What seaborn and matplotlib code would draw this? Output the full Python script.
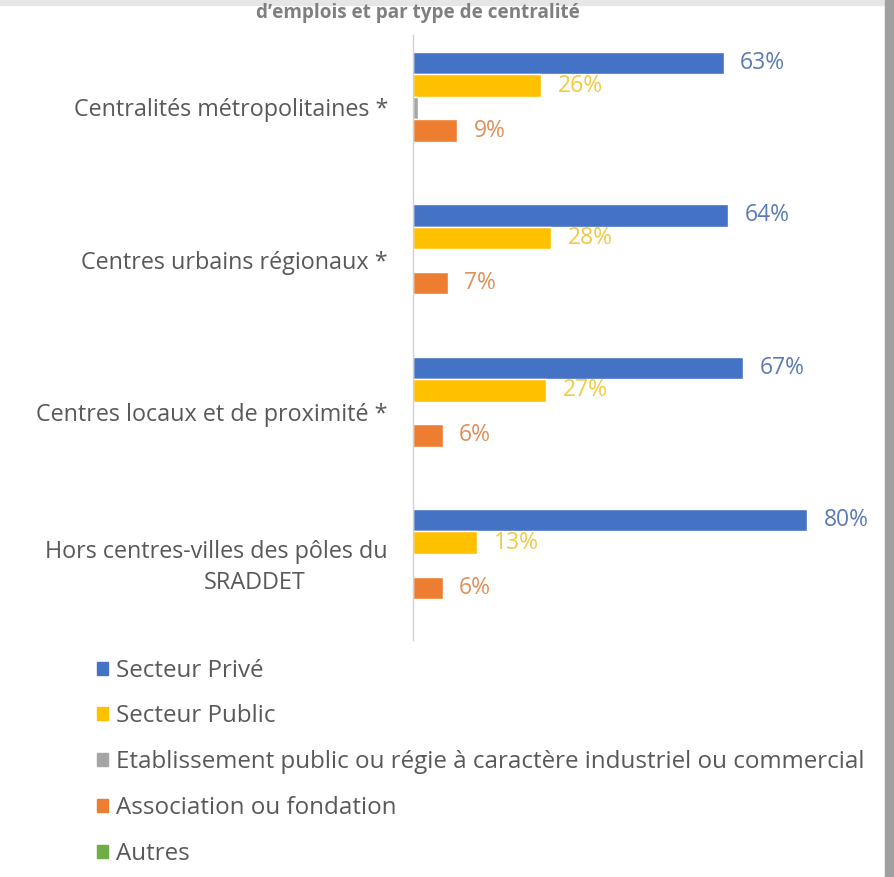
import pandas as pd
import matplotlib.pyplot as plt
import matplotlib.patches as mpatches
import matplotlib.transforms as mtransforms
import seaborn as sns

# Part des emplois par type d'employeur et par type de centralité
categories = [
    "Centralités métropolitaines *",
    "Centres urbains régionaux *",
    "Centres locaux et de proximité *",
    "Hors centres-villes des pôles du\nSRADDET",
]
series = [
    "Secteur Privé",
    "Secteur Public",
    "Etablissement public ou régie à caractère industriel ou commercial",
    "Association ou fondation",
    "Autres",
]
prive = [63, 64, 67, 80]
public = [26, 28, 27, 13]
epic = [1.0, 0.2, 0.1, 0.2]
association = [9, 7, 6, 6]
autres = [0.3, 0.3, 0.1, 0.1]
labelled = ["Secteur Privé", "Secteur Public", "Association ou fondation"]

colors = ["#4472C4", "#FFC000", "#A5A5A5", "#ED7D31", "#70AD47"]
label_colors = ["#5B7BB8", "#F2C940", "#A5A5A5", "#E0905A", "#70AD47"]

values = [prive, public, epic, association, autres]
rows = []
for s, vals in zip(series, values):
    for c, v in zip(categories, vals):
        rows.append({"Catégorie": c, "Type": s, "Part": v})
df = pd.DataFrame(rows)

sns.set_style("white")
plt.rcParams["font.family"] = ["Open Sans", "DejaVu Sans"]
text_grey = "#595959"

fig = plt.figure(figsize=(8.94, 8.77), dpi=100)
ax = fig.add_axes([413 / 894, 1 - 640 / 877, (832 - 413) / 894, (640 - 35) / 877])

sns.barplot(data=df, y="Catégorie", x="Part", hue="Type", order=categories,
            hue_order=series, palette=colors, orient="h", width=0.74,
            saturation=1, ax=ax, legend=False)

for cont, s, lc in zip(ax.containers, series, label_colors):
    if s in labelled:
        ax.bar_label(cont, labels=[f"{v:.0f}%" for v in cont.datavalues],
                     padding=12, color=lc, fontsize=16.5)

ax.set_xlim(0, 85)
ax.set_ylim(3.49, -0.48)
ax.set_xlabel("")
ax.set_ylabel("")
ax.set_xticks([])
ax.set_yticks(range(len(categories)))
ax.set_yticklabels([])
ax.tick_params(axis="y", length=0)
for sp in ["top", "right", "bottom"]:
    ax.spines[sp].set_visible(False)
ax.spines["left"].set_color("#D0D0D0")
ax.spines["left"].set_linewidth(1)

# category labels, right aligned left of the axis (2nd line centred like Excel)
trans = mtransforms.blended_transform_factory(fig.transFigure, ax.transData)
for i, cat in enumerate(categories):
    lines = cat.split("\n")
    if len(lines) == 1:
        ax.text(388 / 894, i + 0.015, cat, transform=trans, ha="right", va="center",
                fontsize=16.8, color=text_grey)
    else:
        ax.text(388 / 894, i - 0.09, lines[0], transform=trans, ha="right",
                va="center", fontsize=16.8, color=text_grey)
        ax.text(255 / 894, i + 0.115, lines[1], transform=trans, ha="center",
                va="center", fontsize=16.8, color=text_grey)

handles = [mpatches.Patch(color=c, label=s) for c, s in zip(colors, series)]
fig.legend(handles=handles, loc="upper left", bbox_to_anchor=(87 / 894, 1 - 649 / 877),
           frameon=False, fontsize=17.4, labelcolor=text_grey, handlelength=0.45,
           handleheight=0.45, handletextpad=0.33, labelspacing=0.9, borderaxespad=0)

fig.text(418 / 894, 1 - 13 / 877, "d’emplois et par type de centralité",
         ha="center", va="center", fontsize=13.6, fontweight="bold", color="#7F7F7F")

# cadre de la capture
fig.patches.append(mpatches.Rectangle((0, 1 - 5 / 877), 1, 5 / 877, transform=fig.transFigure,
                                      color="#E6E6E6", zorder=0))
fig.patches.append(mpatches.Rectangle((885 / 894, 0), 9 / 894, 1, transform=fig.transFigure,
                                      color="#A0A0A0", zorder=0))

plt.savefig("out.png", dpi=100)
